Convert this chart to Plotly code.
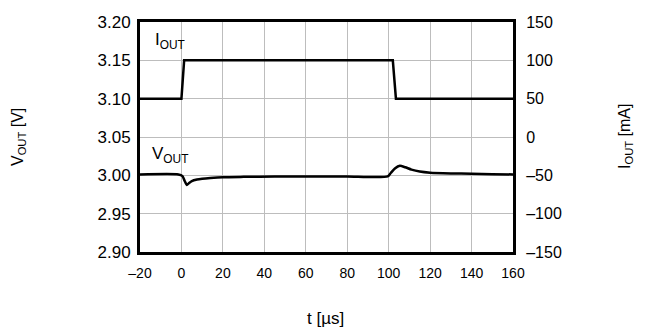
import plotly.graph_objects as go

# Data
t_iout = [-20, 0, 1.3, 102, 103.5, 160]
iout_ma = [50, 50, 100, 100, 50, 50]

t_vout = [-20, -1.5, 0.5, 1.5, 2.6, 3.5, 5, 7.5, 10, 14, 20, 30, 45, 60, 80, 99.5,
          101, 103, 105.4, 108, 111, 115, 120, 130, 140, 150, 160]
vout_v = [3.0012, 3.0012, 2.999, 2.993, 2.9875, 2.9895, 2.9925, 2.9945, 2.9955, 2.9965,
          2.9975, 2.998, 2.9985, 2.9985, 2.9985, 2.9985,
          3.003, 3.009, 3.0125, 3.0105, 3.0075, 3.005, 3.0035, 3.0025, 3.002, 3.0015, 3.0012]

x_ticks = [-20, 0, 20, 40, 60, 80, 100, 120, 140, 160]
y_ticks = [2.90, 2.95, 3.00, 3.05, 3.10, 3.15, 3.20]
y2_ticks = [-150, -100, -50, 0, 50, 100, 150]

def lab(v, fmt="{:g}"):
    s = fmt.format(v)
    return s.replace("-", "\u2013")

FONT = "Liberation Sans, Arial, sans-serif"

fig = go.Figure()
fig.add_trace(go.Scatter(x=t_iout, y=iout_ma, yaxis="y2", mode="lines",
                         line=dict(color="black", width=2.5), showlegend=False))
fig.add_trace(go.Scatter(x=t_vout, y=vout_v, yaxis="y", mode="lines",
                         line=dict(color="black", width=2.5, shape="spline", smoothing=0.6),
                         showlegend=False))

fig.update_layout(
    width=646, height=332,
    margin=dict(l=140, r=133, t=22, b=80),
    paper_bgcolor="white", plot_bgcolor="white",
    font=dict(family=FONT, color="black", size=15),
    xaxis=dict(range=[-20, 160], tickvals=x_ticks, ticktext=[lab(v) for v in x_ticks],
               showgrid=True, gridcolor="#bdbdbd", gridwidth=1, zeroline=False,
               showline=True, linecolor="black", linewidth=3, mirror=True,
               ticks="outside", ticklen=6, tickcolor="rgba(0,0,0,0)",
               tickfont=dict(size=14)),
    yaxis=dict(range=[2.90, 3.20], tickvals=y_ticks,
               ticktext=["{:.2f}".format(v) for v in y_ticks],
               showgrid=True, gridcolor="#bdbdbd", gridwidth=1, zeroline=False,
               showline=True, linecolor="black", linewidth=3,
               ticks="outside", ticklen=3, tickcolor="rgba(0,0,0,0)",
               tickfont=dict(size=17)),
    yaxis2=dict(range=[-150, 150], tickvals=y2_ticks, ticktext=[lab(v) for v in y2_ticks],
                overlaying="y", side="right", showgrid=False, zeroline=False,
                showline=True, linecolor="black", linewidth=3,
                ticks="outside", ticklen=7, tickcolor="rgba(0,0,0,0)",
                tickfont=dict(size=16)),
    annotations=[
        dict(text="I<sub>OUT</sub>", x=-13.5, y=3.175, xref="x", yref="y",
             xanchor="left", yanchor="middle", showarrow=False, font=dict(size=17)),
        dict(text="V<sub>OUT</sub>", x=-15, y=3.027, xref="x", yref="y",
             xanchor="left", yanchor="middle", showarrow=False, font=dict(size=17)),
        dict(text="V<sub>OUT</sub> [V]", x=18, y=137, xref="paper", yref="paper",
             showarrow=False, textangle=-90, font=dict(size=16)),
        dict(text="I<sub>OUT</sub> [mA]", x=625, y=137, xref="paper", yref="paper",
             showarrow=False, textangle=-90, font=dict(size=16)),
        dict(text="t [\u00b5s]", x=325, y=318, xref="paper", yref="paper",
             showarrow=False, font=dict(size=17)),
    ],
)

# convert pixel coordinates for paper annotations
pw = 646 - 140 - 133
ph = 332 - 22 - 80
for a in fig.layout.annotations:
    if a.xref == "paper":
        a.x = (a.x - 140) / pw
        a.y = (332 - 80 - a.y) / ph
        a.xanchor = "center"
        a.yanchor = "middle"

fig.write_html("out.html", config={"displayModeBar": False},
               post_script="document.body.style.margin='0';document.body.style.overflow='hidden';")
